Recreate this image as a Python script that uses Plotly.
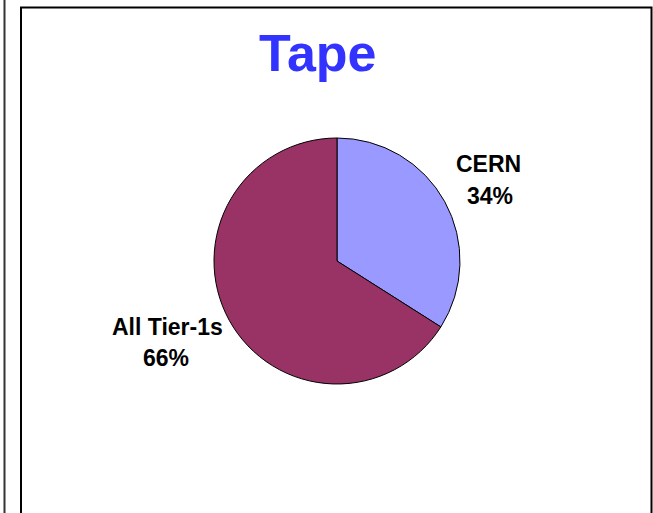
import plotly.graph_objects as go

W, H = 653, 513
labels = ["CERN", "All Tier-1s"]
values = [34, 66]
colors = ["#9999FF", "#993366"]
pct_text = ["34%", "66%"]
title_text = "Tape"

cx, cy, r = 337, 261, 123

def px(x):
    return x / W

def py(y):
    return 1 - y / H

fig = go.Figure(go.Pie(
    labels=labels, values=values, sort=False, direction="clockwise", rotation=0,
    marker=dict(colors=colors, line=dict(color="black", width=1)),
    textinfo="none", hoverinfo="label+percent", showlegend=False,
    domain=dict(x=[px(cx - r), px(cx + r)], y=[py(cy + r), py(cy - r)]),
))

font_lbl = dict(family="Liberation Sans, Arial, sans-serif", size=23, color="black")
anns = [
    dict(text="<b>" + title_text + "</b>", x=px(318), y=py(53), showarrow=False,
         font=dict(family="Liberation Sans, Arial, sans-serif", size=52, color="#3333FF")),
    dict(text="<b>" + labels[0] + "</b>", x=px(488), y=py(164), showarrow=False, font=font_lbl),
    dict(text="<b>" + pct_text[0] + "</b>", x=px(490), y=py(196), showarrow=False, font=font_lbl),
    dict(text="<b>" + labels[1] + "</b>", x=px(167), y=py(327), showarrow=False, font=font_lbl),
    dict(text="<b>" + pct_text[1] + "</b>", x=px(166), y=py(358), showarrow=False, font=font_lbl),
]
for a in anns:
    a.update(xref="paper", yref="paper", xanchor="center", yanchor="middle")

shapes = [
    dict(type="line", xref="paper", yref="paper", x0=px(4.5), x1=px(4.5), y0=0, y1=1,
         line=dict(color="#333333", width=2)),
    dict(type="rect", xref="paper", yref="paper", x0=px(21), x1=px(651.5), y0=py(530), y1=py(7.5),
         line=dict(color="black", width=2), fillcolor="rgba(0,0,0,0)"),
]

fig.update_layout(
    width=W, height=H, margin=dict(l=0, r=0, t=0, b=0),
    paper_bgcolor="white", plot_bgcolor="white",
    annotations=anns, shapes=shapes,
)
fig.write_html("out.html")
